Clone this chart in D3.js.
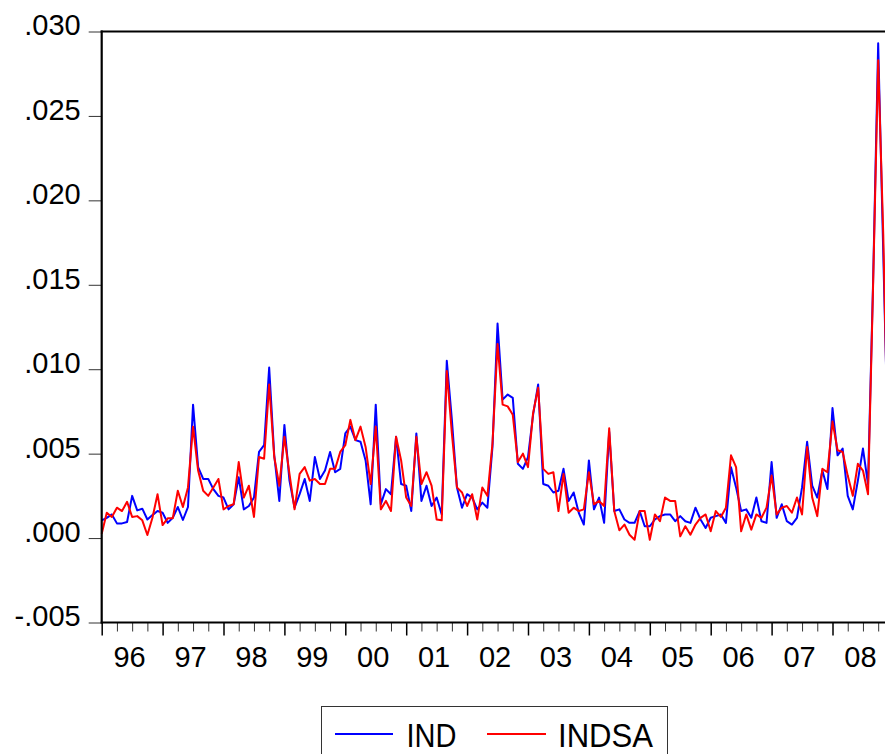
<!DOCTYPE html>
<html>
<head>
<meta charset="utf-8">
<script src="https://cdn.jsdelivr.net/npm/d3@7"></script>
<style>
  body { margin: 0; background: #fff; }
  svg { display: block; font-family: "Liberation Sans", Arial, sans-serif; }
</style>
</head>
<body>
<svg id="chart" width="885" height="754"></svg>
<script>
// monthly, 1996M01 .. 2008M12
const years = ["96", "97", "98", "99", "00", "01", "02", "03", "04", "05", "06", "07", "08"];
const yTicks = [-0.005, 0, 0.005, 0.010, 0.015, 0.020, 0.025, 0.030];

const ind = [
  0.00105, 0.0012, 0.0014, 0.00087, 0.00087, 0.00095, 0.0025, 0.00164, 0.00174, 0.0011, 0.00136, 0.0016,
  0.0015, 0.0009, 0.0012, 0.00184, 0.00107, 0.00184, 0.0079, 0.0042, 0.0035, 0.0035, 0.0029, 0.0025,
  0.0024, 0.0017, 0.0020, 0.0036, 0.0017, 0.0019, 0.0024, 0.0051, 0.0055, 0.0101, 0.0049, 0.0022,
  0.0067, 0.0034, 0.0018, 0.0026, 0.0035, 0.0022, 0.0048, 0.0035, 0.0040, 0.0051, 0.0039, 0.0041,
  0.0062, 0.0066, 0.0058, 0.0057, 0.0046, 0.0020, 0.0079, 0.0020, 0.0029, 0.0026, 0.0060, 0.0032,
  0.0031, 0.0016, 0.0062, 0.0022, 0.0031, 0.0019, 0.0024, 0.0014, 0.0105, 0.0070, 0.0030, 0.0018,
  0.0026, 0.0024, 0.0017, 0.0021, 0.0018, 0.0054, 0.0127, 0.0082, 0.0085, 0.0083, 0.0044, 0.0041,
  0.0048, 0.0073, 0.0091, 0.0032, 0.0031, 0.0027, 0.0028, 0.0041, 0.0022, 0.0027, 0.0015, 0.0008,
  0.0046, 0.0017, 0.0024, 0.0009, 0.0063, 0.0016, 0.0017, 0.0011, 0.0009, 0.0009, 0.0016, 0.0007,
  0.0007, 0.0011, 0.0013, 0.0014, 0.0014, 0.0010, 0.0013, 0.0010, 0.0009, 0.0018, 0.0011, 0.0006,
  0.0012, 0.0013, 0.0014, 0.0009, 0.0042, 0.0030, 0.0016, 0.0017, 0.0012, 0.0024, 0.0010, 0.0009,
  0.0045, 0.0012, 0.0020, 0.0010, 0.0008, 0.0012, 0.0030, 0.0057, 0.0031, 0.0024, 0.0040, 0.0029,
  0.0077, 0.0049, 0.0053, 0.0025, 0.0017, 0.0034, 0.0053, 0.0032, 0.0152, 0.0293, 0.0169, 0.0046
];

const indsa = [
  0.00026, 0.0015, 0.00125, 0.0018, 0.0016, 0.00215, 0.00125, 0.0013, 0.00105, 0.00018, 0.0012, 0.0026,
  0.00077, 0.00117, 0.00117, 0.0028, 0.00184, 0.0030, 0.0066, 0.0040, 0.0028, 0.0025, 0.0030, 0.0035,
  0.0017, 0.0019, 0.0020, 0.0045, 0.0024, 0.0031, 0.00125, 0.0048, 0.0047, 0.0091, 0.0048, 0.0031,
  0.0060, 0.0038, 0.0017, 0.0038, 0.0042, 0.0034, 0.0035, 0.0032, 0.0032, 0.0041, 0.0041, 0.0051,
  0.0055, 0.0070, 0.0058, 0.0066, 0.0054, 0.0032, 0.0066, 0.0017, 0.0022, 0.0016, 0.0060, 0.0046,
  0.0024, 0.0019, 0.0060, 0.0032, 0.0039, 0.0031, 0.0011, 0.00105, 0.0099, 0.0062, 0.0030, 0.0027,
  0.0019, 0.0026, 0.0011, 0.0030, 0.0025, 0.0056, 0.0115, 0.0079, 0.0078, 0.0073, 0.0045, 0.0050,
  0.0042, 0.0074, 0.0089, 0.0041, 0.0038, 0.0039, 0.0016, 0.0038, 0.0015, 0.0018, 0.0016, 0.0017,
  0.0039, 0.0020, 0.0022, 0.0019, 0.0065, 0.0016, 0.00046, 0.0008, 0.0002, -0.0001, 0.0016, 0.0016,
  -0.0001, 0.0014, 0.0010, 0.0024, 0.0022, 0.0022, 0.0001, 0.0007, 0.0002, 0.0008, 0.0012, 0.0014,
  0.0004, 0.0016, 0.00125, 0.0018, 0.0049, 0.0042, 0.0004, 0.0014, 0.0005, 0.0014, 0.0012, 0.0018,
  0.0037, 0.0014, 0.0018, 0.0019, 0.0015, 0.0024, 0.0014, 0.0054, 0.0024, 0.0013, 0.0041, 0.0039,
  0.0069, 0.0052, 0.0051, 0.0037, 0.0025, 0.0044, 0.0040, 0.0026, 0.0150, 0.0283, 0.0180, 0.0040
];

const svg = d3.select("#chart");
const plotLeft = 101.7, plotTop = 31.5, plotBottom = 622.5;
const monthW = 5.075;
const plotRight = plotLeft + (ind.length - 1) * monthW; // runs past the picture edge

const x = d3.scaleLinear().domain([0, ind.length - 1]).range([plotLeft, plotRight]);
const y = d3.scaleLinear().domain([-0.005, 0.030]).range([plotBottom, plotTop]);

svg.append("rect").attr("width", 885).attr("height", 754).attr("fill", "#fff");

// y axis, eviews style labels: .030, -.005
const fmt = d => d3.format(".3f")(d).replace(/^[-\u2212]/, "-").replace(/^(-?)0\./, "$1.");
const yAxis = svg.append("g")
    .attr("transform", `translate(${plotLeft},0)`)
    .call(d3.axisLeft(y).tickValues(yTicks).tickSize(13).tickPadding(8).tickFormat(fmt));
yAxis.select(".domain").remove();
yAxis.selectAll(".tick line").attr("stroke", "#333").attr("stroke-width", 1);
yAxis.selectAll(".tick text")
    .attr("font-size", 29).attr("fill", "#000")
    .attr("font-family", "Liberation Sans, Arial, sans-serif")
    .attr("dy", "0.22em").attr("y", -3);

// x axis: major ticks per year, minor per quarter
const months = d3.range(0, ind.length + 1);
const xMinor = svg.append("g")
    .attr("transform", `translate(0,${plotBottom})`)
    .call(d3.axisBottom(x).tickValues(months.filter(i => i % 3 === 0 && i % 12 !== 0)).tickSize(9).tickFormat(""));
const xMajor = svg.append("g")
    .attr("transform", `translate(0,${plotBottom})`)
    .call(d3.axisBottom(x).tickValues(months.filter(i => i % 12 === 0)).tickSize(13).tickFormat(""));
[xMinor, xMajor].forEach(a => {
    a.select(".domain").remove();
    a.selectAll(".tick line").attr("stroke", "#333").attr("stroke-width", 1);
});
xMajor.selectAll(".tick line").attr("stroke", "#000").attr("stroke-width", 1.5);

svg.append("g")
    .selectAll("text")
    .data(years)
    .join("text")
    .attr("x", (d, i) => x(i * 12 + 5.5))
    .attr("y", 666.5)
    .attr("text-anchor", "middle")
    .attr("font-size", 29)
    .text(d => d);

// series
const line = d3.line().x((d, i) => x(i)).y(d => y(d));
svg.append("path").datum(ind)
    .attr("fill", "none").attr("stroke", "#0000ff").attr("stroke-width", 2)
    .attr("stroke-linejoin", "round").attr("d", line);
svg.append("path").datum(indsa)
    .attr("fill", "none").attr("stroke", "#ff0000").attr("stroke-width", 2)
    .attr("stroke-linejoin", "round").attr("d", line);

// frame (right side falls outside the picture)
const frame = svg.append("g").attr("stroke", "#000").attr("stroke-width", 2.2);
frame.append("line").attr("x1", plotLeft).attr("x2", plotLeft).attr("y1", plotTop - 1).attr("y2", plotBottom + 1);
frame.append("line").attr("x1", plotLeft - 1).attr("x2", 885).attr("y1", plotTop).attr("y2", plotTop);
frame.append("line").attr("x1", plotLeft - 1).attr("x2", 885).attr("y1", plotBottom).attr("y2", plotBottom);

// legend
const leg = svg.append("g");
leg.append("rect")
    .attr("x", 321.5).attr("y", 706.5).attr("width", 346).attr("height", 60)
    .attr("fill", "#fff").attr("stroke", "#333").attr("stroke-width", 1);
const legItems = [
    { name: "IND", color: "#0000ff", x1: 335, x2: 393, tx: 406.5, tw: 50 },
    { name: "INDSA", color: "#ff0000", x1: 487, x2: 546, tx: 558, tw: 95 }
];
legItems.forEach(d => {
    leg.append("line").attr("x1", d.x1).attr("x2", d.x2).attr("y1", 734).attr("y2", 734)
        .attr("stroke", d.color).attr("stroke-width", 2);
    leg.append("text").attr("x", d.tx).attr("y", 746.5)
        .attr("font-size", 34)
        .attr("textLength", d.tw).attr("lengthAdjust", "spacingAndGlyphs")
        .text(d.name);
});
</script>
</body>
</html>
